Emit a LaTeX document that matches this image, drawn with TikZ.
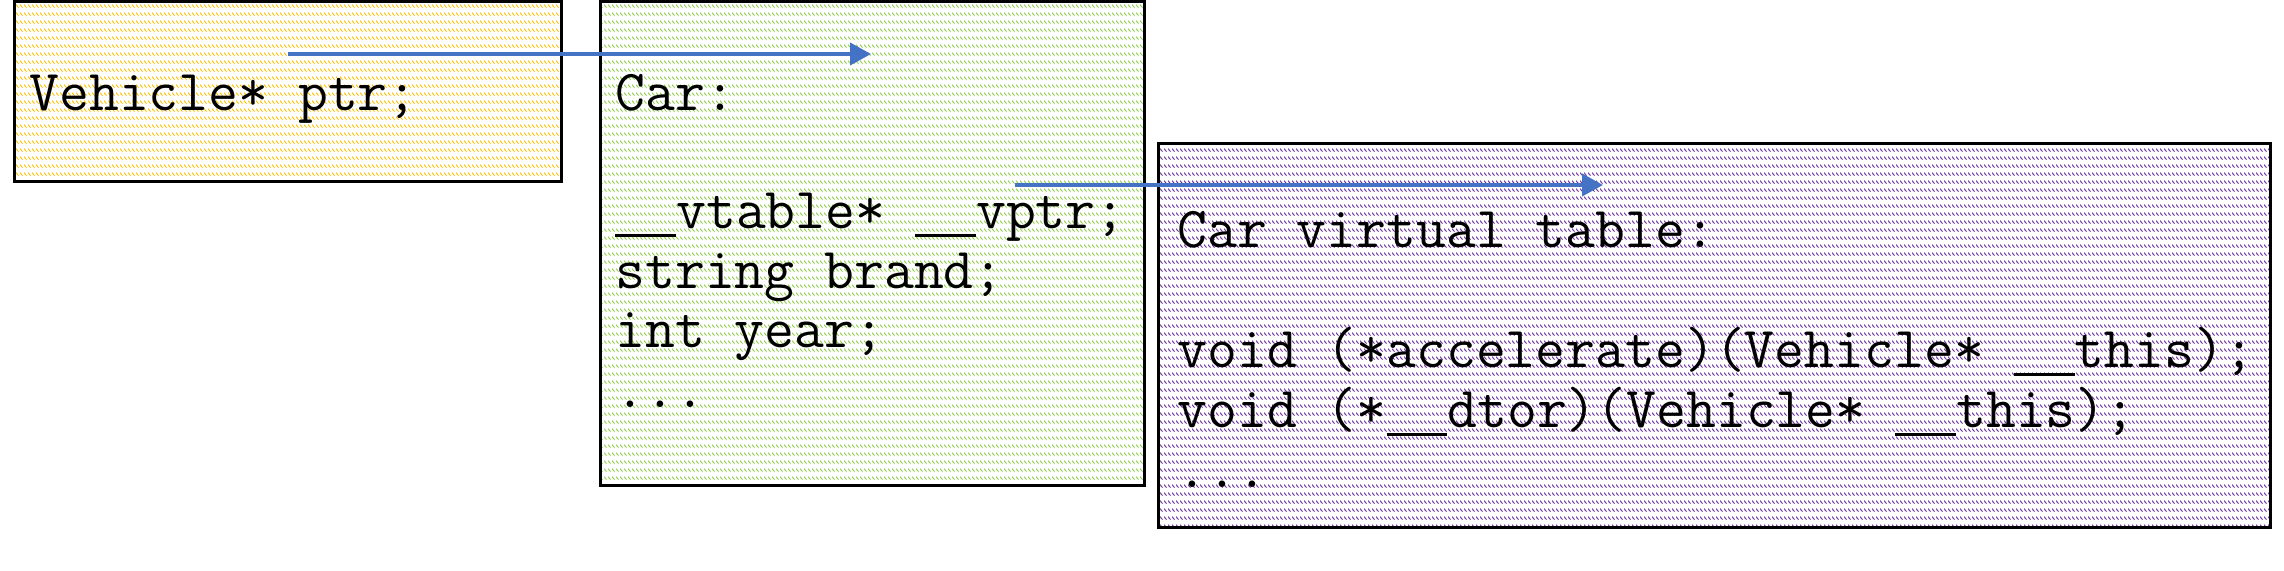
\documentclass[tikz,border=0pt]{standalone}
\usepackage{fontspec}
\usetikzlibrary{arrows.meta,patterns}
\pgfdeclarepatternformonly{hatchrow}{\pgfpointorigin}{\pgfpoint{2pt}{4pt}}{\pgfpoint{2pt}{4pt}}{%
  \pgfsetlinewidth{0.55pt}%
  \pgfpathmoveto{\pgfpoint{-0.3pt}{3.8pt}}%
  \pgfpathlineto{\pgfpoint{1.6pt}{1.9pt}}%
  \pgfusepath{stroke}}
\definecolor{hyellow}{HTML}{FFC000}
\definecolor{hgreen}{HTML}{92D050}
\definecolor{hpurple}{HTML}{7030A0}
\definecolor{arrowblue}{HTML}{4472C4}
\newcommand{\usc}{\rule[-0.14em]{0.525em}{0.05em}}
\begin{document}
\begin{tikzpicture}[x=0.5pt,y=-0.5pt,
  memblock/.style={draw=black,line width=1.5pt,pattern=hatchrow,anchor=north west,inner sep=0pt,outer sep=0pt},
  code/.style={anchor=base west,inner sep=0pt,font=\ttfamily\fontsize{29}{30}\selectfont},
  ptr/.style={draw=arrowblue,line width=2pt,-{Triangle[length=10.5pt,width=11pt]}}]
\useasboundingbox (0,0) rectangle (2284,571);
% boxes
\node[memblock,pattern color=hyellow,minimum width=273.5pt,minimum height=90.25pt] (ybox) at (14,1.5) {};
\node[memblock,pattern color=hgreen,minimum width=272pt,minimum height=241.75pt] (gbox) at (600,1.5) {};
\node[memblock,pattern color=hpurple,minimum width=556pt,minimum height=191.5pt] (pbox) at (1158,144) {};
% texts
\node[code] (t1) at (29,111) {Vehicle* ptr;};
\node[code] (g1) at (615,111) {Car:};
\node[code] (g2) at (615,229) {\usc\usc vtable* \usc\usc vptr;};
\node[code] (g3) at (615,288.5) {string brand;};
\node[code] (g4) at (615,348) {int year;};
\node[code] (g5) at (615,407.5) {...};
\node[code] (p1) at (1177,248) {Car virtual table:};
\node[code] (p2) at (1177,368) {void (*accelerate)(Vehicle* \usc\usc this);};
\node[code] (p3) at (1177,427.5) {void (*\usc\usc dtor)(Vehicle* \usc\usc this);};
\node[code] (p4) at (1177,487) {...};
% arrows
\coordinate (a1s) at (288,54);
\coordinate (a1e) at (871,54);
\coordinate (a2s) at (1015,185);
\coordinate (a2e) at (1603,185);
\draw[ptr] (a1s) -- (a1e);
\draw[ptr] (a2s) -- (a2e);
\end{tikzpicture}
\end{document}
